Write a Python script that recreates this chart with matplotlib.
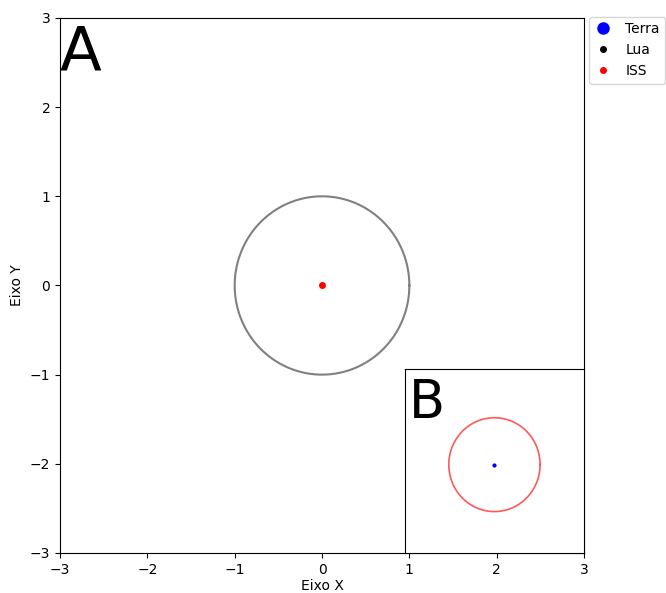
import matplotlib.pyplot as plt
from matplotlib.lines import Line2D
import numpy as np

# Orbits (main view in arbitrary units, inset is a zoom around the Earth)
lua_orbit_r = 1.0
iss_orbit_r = 0.51
terra_pos = (0.0, 0.0)
iss_center = (0.0, -0.04)
lim_main = (-3, 3)
lim_inset = (-1, 1)
legend_labels = ['Terra', 'Lua', 'ISS']
legend_colors = ['blue', 'black', 'red']
legend_sizes = [8, 4, 4]

theta = np.linspace(0, 2 * np.pi, 400)

fig = plt.figure(figsize=(6.66, 5.93), dpi=100)
ax = fig.add_axes([0.0901, 0.0675, 0.7868, 0.9022])

# Moon orbit
ax.plot(lua_orbit_r * np.cos(theta), lua_orbit_r * np.sin(theta), color='gray', lw=1.5)
# Earth / ISS at the centre
ax.scatter(*terra_pos, color='red', s=16, zorder=3)

ax.set_xlim(*lim_main)
ax.set_ylim(*lim_main)
ax.set_xlabel('Eixo X', labelpad=2)
ax.set_ylabel('Eixo Y')
ax.text(0.0, 0.99, 'A', transform=ax.transAxes, fontsize=44, va='top', ha='left')

handles = [Line2D([], [], ls='none', marker='o', color=c, markersize=m)
           for c, m in zip(legend_colors, legend_sizes)]
ax.legend(handles, legend_labels, loc='upper left', bbox_to_anchor=(1.002, 1.01),
          fontsize=10, handlelength=1.2, handletextpad=1.0, borderpad=0.4,
          borderaxespad=0.3)

# Inset: zoom on Earth + ISS orbit
axin = fig.add_axes([0.608, 0.0675, 0.2688, 0.3103])
axin.plot(iss_center[0] + iss_orbit_r * np.cos(theta),
          iss_center[1] + iss_orbit_r * np.sin(theta), color='red', lw=1.2, alpha=0.65)
axin.scatter(*iss_center, color='blue', s=4, zorder=3)
axin.set_xlim(*lim_inset)
axin.set_ylim(*lim_inset)
axin.set_xticks([])
axin.set_yticks([])
axin.text(0.02, 0.955, 'B', transform=axin.transAxes, fontsize=38, va='top', ha='left')

fig.savefig('out.png', dpi=100)
